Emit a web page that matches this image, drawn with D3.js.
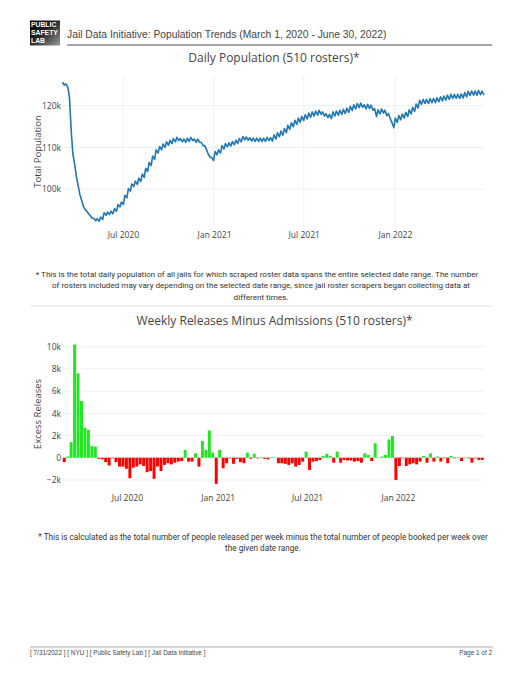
<!DOCTYPE html>
<html>
<head>
<meta charset="utf-8">
<script src="https://cdn.jsdelivr.net/npm/d3@7"></script>
<style>
  body { margin: 0; background: #fff; }
  .tick text { fill: #444; font-family: "Open Sans", sans-serif; font-size: 8.5px; }
</style>
</head>
<body>
<script>
// weekly peak / trough of the daily jail population (thousands), one pair per week from Sun Mar 1 2020
var popHighK = [
  125.6, 125.2, 122.0, 108.4, 103.0, 98.7, 95.9, 94.7, 93.6, 93.0,
  92.9, 93.3, 94.3, 94.5, 94.7, 95.3, 96.3, 96.9, 98.5, 100.1,
  101.2, 101.9, 102.6, 103.6, 105.0, 106.4, 107.9, 109.4, 110.2, 110.8,
  111.3, 111.7, 112.1, 112.4, 112.1, 112.0, 112.2, 112.4, 112.0, 112.0,
  111.2, 110.4, 108.4, 107.6, 109.0, 109.4, 110.4, 110.9, 111.1, 111.4,
  111.7, 112.1, 112.6, 112.5, 112.3, 112.2, 112.2, 112.2, 112.2, 112.4,
  112.3, 113.0, 113.5, 113.9, 114.5, 115.3, 115.9, 116.5, 117.0, 117.4,
  117.8, 118.2, 118.5, 118.7, 118.9, 118.5, 118.1, 117.9, 118.5, 118.7,
  118.9, 119.1, 119.4, 119.8, 120.2, 120.5, 120.6, 120.2, 120.3, 120.1,
  119.3, 119.0, 119.2, 118.9, 118.1, 116.0, 117.0, 117.6, 118.0, 118.4,
  119.0, 119.6, 120.4, 121.3, 121.5, 121.5, 121.7, 121.7, 121.9, 122.1,
  122.3, 122.5, 122.7, 122.7, 122.7, 122.8, 123.1, 123.4, 123.5, 123.5,
  123.6, 123.5
];
var popLowK = [
  124.9, 124.3, 113.2, 105.6, 100.6, 97.2, 95.0, 94.0, 93.0, 92.4,
  92.3, 92.7, 93.7, 93.9, 94.1, 94.7, 95.7, 96.3, 97.9, 99.5,
  100.6, 101.1, 101.8, 102.8, 104.2, 105.6, 107.1, 108.6, 109.4, 110.0,
  110.5, 110.9, 111.3, 111.6, 111.3, 111.2, 111.4, 111.6, 111.2, 111.2,
  110.4, 109.4, 107.6, 106.8, 108.2, 108.6, 109.6, 110.1, 110.3, 110.6,
  110.9, 111.3, 111.8, 111.7, 111.5, 111.4, 111.4, 111.4, 111.4, 111.6,
  111.5, 112.0, 112.5, 112.9, 113.5, 114.3, 114.9, 115.5, 116.0, 116.4,
  116.8, 117.2, 117.5, 117.7, 117.9, 117.5, 117.1, 116.9, 117.5, 117.7,
  117.9, 118.1, 118.4, 118.8, 119.2, 119.5, 119.6, 119.2, 119.3, 118.9,
  117.4, 118.0, 118.2, 117.6, 116.8, 114.7, 116.0, 116.6, 117.0, 117.4,
  118.0, 118.6, 119.4, 120.3, 120.5, 120.5, 120.7, 120.7, 120.9, 121.1,
  121.3, 121.5, 121.7, 121.7, 121.7, 121.8, 122.1, 122.4, 122.5, 122.5,
  122.6, 122.5
];

// weekly releases minus admissions (thousands), one bar per week from Tue Feb 25 2020
var releasesK = [
  -0.4, 0.1, 1.4, 10.2, 7.6, 5.1, 2.7, 2.5, 1.05, 1.0,
  -0.1, -0.15, -0.4, -0.7, -0.05, -0.4, -0.8, -0.8, -1.0, -1.85,
  -0.9, -0.8, -0.6, -0.75, -1.3, -1.2, -1.9, -0.8, -1.2, -0.65,
  -0.5, -0.6, -0.45, -0.35, -0.3, 0.7, -0.35, -0.35, 0.4, -0.8,
  1.5, 0.7, 2.45, 0.45, -2.35, 0.7, -0.95, -0.5, -0.05, -0.55,
  -0.1, -0.4, -0.5, 0.45, -0.1, 0.35, -0.05, 0.05, -0.1, -0.15,
  0.05, -0.02, -0.5, -0.5, -0.55, -0.65, -0.5, -0.8, -0.65, -0.35,
  0.55, -1.1, -0.35, -0.3, -0.2, 0.15, 0.35, 0.15, -0.45, 0.55,
  -0.45, -0.2, -0.25, -0.25, -0.35, -0.3, -0.45, 0.4, 0.25, -0.3,
  1.3, 0.02, 0.1, 0.25, 1.65, 1.95, -2.0, -0.75, -0.05, -0.75,
  -0.6, -0.5, -0.6, -0.35, 0.15, -0.45, 0.4, -0.35, 0.1, -0.35,
  -0.05, -0.5, 0.15, -0.05, 0.05, -0.3, 0.05, -0.05, -0.45, -0.05,
  -0.2, -0.2
];

var popTicks = [100, 110, 120];
var relTicks = [-2, 0, 2, 4, 6, 8, 10];

var note1 = [
  "* This is the total daily population of all jails for which scraped roster data spans the entire selected date range. The number",
  "of rosters included may vary depending on the selected date range, since jail roster scrapers began collecting data at",
  "different times."
];
var note2 = [
  "* This is calculated as the total number of people released per week minus the total number of people booked per week over",
  "the given date range."
];

var w = 524, h = 680;
var svg = d3.select("body").append("svg")
  .attr("width", w)
  .attr("height", h)
  .style("background", "#fff");

// ---- page header ----
var grad = svg.append("defs").append("linearGradient")
  .attr("id", "logoGrad")
  .attr("x1", 0).attr("y1", 0).attr("x2", 1).attr("y2", 1);
grad.append("stop").attr("offset", "0%").attr("stop-color", "#000");
grad.append("stop").attr("offset", "45%").attr("stop-color", "#222");
grad.append("stop").attr("offset", "100%").attr("stop-color", "#9a9a9a");

svg.append("rect")
  .attr("x", 30).attr("y", 20.5)
  .attr("width", 30).attr("height", 25)
  .attr("fill", "url(#logoGrad)");

svg.selectAll(".logoText")
  .data(["PUBLIC", "SAFETY", "LAB"])
  .enter()
  .append("text")
  .attr("class", "logoText")
  .attr("x", 31)
  .attr("y", function(d, i){ return 27 + i * 8; })
  .attr("fill", "#fff")
  .style("font-family", "Liberation Sans, Arial, sans-serif")
  .style("font-weight", "bold")
  .style("font-size", "6.8px")
  .text(function(d){ return d; });

svg.append("text")
  .attr("x", 67).attr("y", 37.5)
  .attr("fill", "#444")
  .style("font-family", "Liberation Sans, Arial, sans-serif")
  .style("font-size", "10.3px")
  .text("Jail Data Initiative: Population Trends (March 1, 2020 - June 30, 2022)");

svg.append("line")
  .attr("x1", 67).attr("x2", 492)
  .attr("y1", 45).attr("y2", 45)
  .attr("stroke", "#888")
  .attr("stroke-width", 1.3);

// ---- chart 1: daily population ----
var left = 62.5, right = 484;

var sundays = d3.timeSunday.range(new Date(2020, 2, 1), new Date(2022, 5, 27));
var popPoints = [];
sundays.forEach(function(d, i){
  popPoints.push({ date: d, v: popHighK[i] });
  popPoints.push({ date: d3.timeDay.offset(d, 4), v: popLowK[i] });
});

var x1 = d3.scaleTime()
  .domain([new Date(2020, 2, 1), new Date(2022, 5, 30)])
  .range([left, right]);

var y1 = d3.scaleLinear()
  .domain([90.9, 127.1])
  .range([227, 76]);

svg.append("text")
  .attr("x", 274).attr("y", 62)
  .attr("text-anchor", "middle")
  .attr("fill", "#444")
  .style("font-family", "Open Sans, sans-serif")
  .style("font-size", "12px")
  .text("Daily Population (510 rosters)*");

var grid1 = svg.append("g").attr("class", "grid1");
grid1.selectAll(".hgrid")
  .data(popTicks)
  .enter()
  .append("line")
  .attr("x1", left).attr("x2", right)
  .attr("y1", function(d){ return y1(d); })
  .attr("y2", function(d){ return y1(d); })
  .attr("stroke", "#eef0f3");
grid1.selectAll(".vgrid")
  .data(x1.ticks(d3.timeMonth.every(6)))
  .enter()
  .append("line")
  .attr("x1", function(d){ return x1(d); })
  .attr("x2", function(d){ return x1(d); })
  .attr("y1", 76).attr("y2", 227)
  .attr("stroke", "#eef0f3");

var line = d3.line()
  .x(function(d){ return x1(d.date); })
  .y(function(d){ return y1(d.v); });

svg.append("path")
  .datum(popPoints)
  .attr("d", line)
  .attr("fill", "none")
  .attr("stroke", "#1f77b4")
  .attr("stroke-width", 1.6)
  .attr("stroke-linejoin", "round");

var xAxis1 = d3.axisBottom(x1)
  .ticks(d3.timeMonth.every(6))
  .tickFormat(d3.timeFormat("%b %Y"))
  .tickSize(0)
  .tickPadding(5);
svg.append("g")
  .attr("transform", "translate(0,227)")
  .call(xAxis1)
  .call(function(g){ g.select(".domain").remove(); });

var yAxis1 = d3.axisLeft(y1)
  .tickValues(popTicks)
  .tickFormat(function(d){ return d + "k"; })
  .tickSize(0)
  .tickPadding(1.5);
svg.append("g")
  .attr("transform", "translate(" + left + ",0)")
  .call(yAxis1)
  .call(function(g){ g.select(".domain").remove(); });

svg.append("text")
  .attr("transform", "translate(40.5,151.5) rotate(-90)")
  .attr("text-anchor", "middle")
  .attr("fill", "#444")
  .style("font-family", "Open Sans, sans-serif")
  .style("font-size", "9.5px")
  .text("Total Population");

// footnote 1
svg.selectAll(".note1")
  .data(note1)
  .enter()
  .append("text")
  .attr("class", "note1")
  .attr("x", function(d, i){ return i === 0 ? 257 : 261; })
  .attr("y", function(d, i){ return 277 + i * 11.3; })
  .attr("text-anchor", "middle")
  .attr("fill", "#333")
  .style("font-family", "Roboto, sans-serif")
  .style("font-size", "8.1px")
  .text(function(d){ return d; });

svg.append("line")
  .attr("x1", 30).attr("x2", 493)
  .attr("y1", 306).attr("y2", 306)
  .attr("stroke", "#e3e3e3");

// ---- chart 2: weekly releases minus admissions ----
var weeks = d3.timeTuesday.range(new Date(2020, 1, 25), new Date(2022, 5, 22));

var x2 = d3.scaleTime()
  .domain([d3.timeHour.offset(weeks[0], -84), d3.timeHour.offset(weeks[weeks.length - 1], 84)])
  .range([left, right]);

var y2 = d3.scaleLinear()
  .domain([-2.98, 10.83])
  .range([490.8, 337.5]);

svg.append("text")
  .attr("x", 274.5).attr("y", 325)
  .attr("text-anchor", "middle")
  .attr("fill", "#444")
  .style("font-family", "Open Sans, sans-serif")
  .style("font-size", "12px")
  .text("Weekly Releases Minus Admissions (510 rosters)*");

svg.append("g").selectAll("line")
  .data(relTicks)
  .enter()
  .append("line")
  .attr("x1", left).attr("x2", right)
  .attr("y1", function(d){ return y2(d); })
  .attr("y2", function(d){ return y2(d); })
  .attr("stroke", "#eef0f3")
  .attr("stroke-width", function(d){ return d === 0 ? 2 : 1; });

var barW = x2(d3.timeDay.offset(weeks[0], 6)) - x2(weeks[0]);
svg.append("g").selectAll("rect")
  .data(releasesK)
  .enter()
  .append("rect")
  .attr("x", function(d, i){ return x2(weeks[i]) - barW / 2; })
  .attr("width", barW)
  .attr("y", function(d){ return y2(Math.max(d, 0)); })
  .attr("height", function(d){ return Math.abs(y2(d) - y2(0)); })
  .attr("fill", function(d){ return d < 0 ? "#ff0000" : "#22e622"; });

var xAxis2 = d3.axisBottom(x2)
  .ticks(d3.timeMonth.every(6))
  .tickFormat(d3.timeFormat("%b %Y"))
  .tickSize(0)
  .tickPadding(4);
svg.append("g")
  .attr("transform", "translate(0,490.8)")
  .call(xAxis2)
  .call(function(g){ g.select(".domain").remove(); });

var yAxis2 = d3.axisLeft(y2)
  .tickValues(relTicks)
  .tickFormat(function(d){
    if (d === 0) return "0";
    return (d < 0 ? "\u2212" : "") + Math.abs(d) + "k";
  })
  .tickSize(0)
  .tickPadding(1.5);
svg.append("g")
  .attr("transform", "translate(" + left + ",0)")
  .call(yAxis2)
  .call(function(g){ g.select(".domain").remove(); });

svg.append("text")
  .attr("transform", "translate(40.5,414) rotate(-90)")
  .attr("text-anchor", "middle")
  .attr("fill", "#444")
  .style("font-family", "Open Sans, sans-serif")
  .style("font-size", "9.5px")
  .text("Excess Releases");

// footnote 2
svg.selectAll(".note2")
  .data(note2)
  .enter()
  .append("text")
  .attr("class", "note2")
  .attr("x", 263)
  .attr("y", function(d, i){ return 540 + i * 11.3; })
  .attr("text-anchor", "middle")
  .attr("fill", "#333")
  .style("font-family", "Roboto, sans-serif")
  .style("font-size", "8.2px")
  .text(function(d){ return d; });

// ---- page footer ----
svg.append("line")
  .attr("x1", 30).attr("x2", 493)
  .attr("y1", 647).attr("y2", 647)
  .attr("stroke", "#999")
  .attr("stroke-width", 0.8);

svg.append("text")
  .attr("x", 30).attr("y", 655)
  .attr("fill", "#444")
  .style("font-family", "Liberation Sans, Arial, sans-serif")
  .style("font-size", "6.4px")
  .text("[ 7/31/2022 ] [ NYU ] [ Public Safety Lab ] [ Jail Data Initiative ]");

svg.append("text")
  .attr("x", 492).attr("y", 655)
  .attr("text-anchor", "end")
  .attr("fill", "#444")
  .style("font-family", "Liberation Sans, Arial, sans-serif")
  .style("font-size", "6.4px")
  .text("Page 1 of 2");
</script>
</body>
</html>
